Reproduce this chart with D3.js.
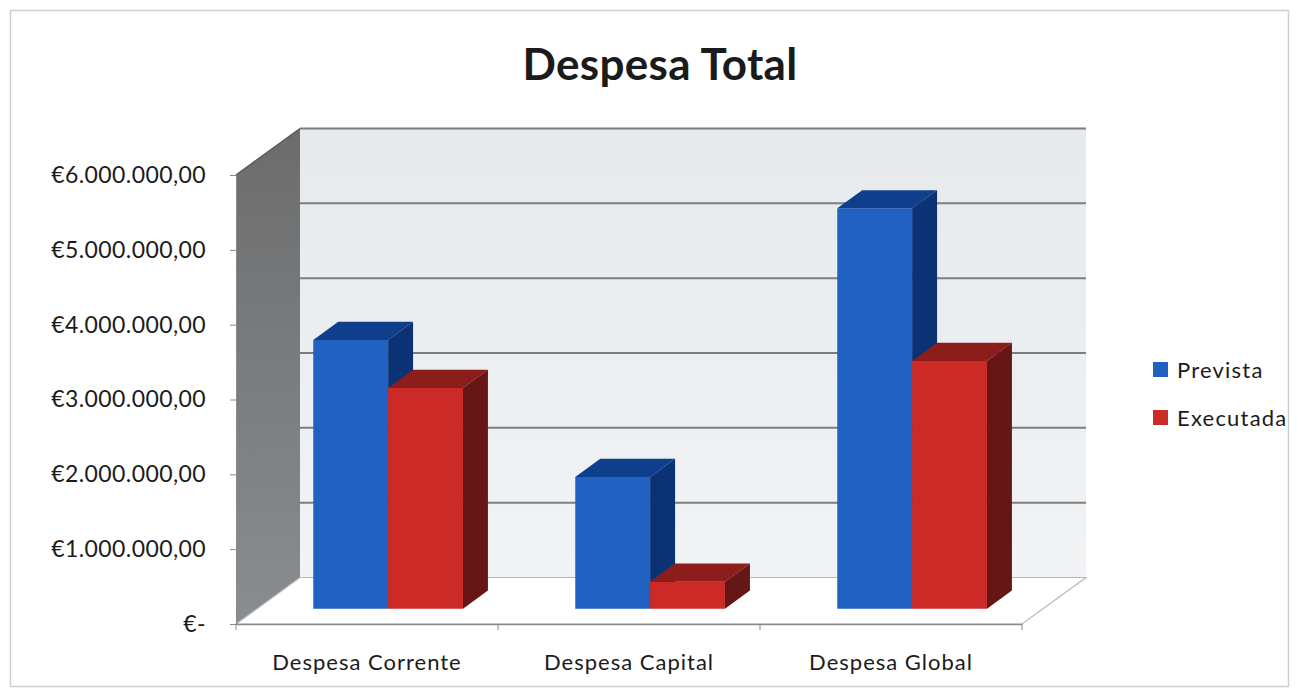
<!DOCTYPE html>
<html>
<head>
<meta charset="utf-8">
<script src="https://cdn.jsdelivr.net/npm/d3@7"></script>
<style>
  body { margin: 0; background: #ffffff; }
  svg { display: block; }
  text { font-family: Lato, "Open Sans", sans-serif; fill: #1b1b1b; }
</style>
</head>
<body>
<svg id="chart" width="1298" height="689"></svg>
<script>
// ---- data ----
const categories = ["Despesa Corrente", "Despesa Capital", "Despesa Global"];
const seriesNames = ["Prevista", "Executada"];
const prevista = [3590000, 1760000, 5350000];
const executada = [2950000, 360000, 3310000];
const yTickValues = [0, 1000000, 2000000, 3000000, 4000000, 5000000, 6000000];
const chartTitle = "Despesa Total";

// ---- colours ----
const seriesColors = {
  Prevista:  { front: "#2161c2", top: "#0f3f8c", side: "#0b3274" },
  Executada: { front: "#cb2a27", top: "#8c1d1b", side: "#661715" }
};

const svg = d3.select("#chart");
const euro = d3.formatLocale({ decimal: ",", thousands: ".", grouping: [3], currency: ["€", ""] });
const fmt = v => v === 0 ? "€-" : euro.format("$,.2f")(v);

// ---- 3D frame geometry ----
const origin = { x: 236, y: 624 };      // front-left corner of the floor
const depth = { x: 64, y: -46.5 };      // vector from front plane to back wall
const plotW = 786;
const plotH = 449;

const x0 = d3.scaleBand().domain(categories).range([0, plotW]);
const barW = x0.bandwidth() / 3.5;      // gap width 150%
const x1 = d3.scaleBand().domain(seriesNames).range([barW * 0.75, barW * 2.75]);
const h = d3.scaleLinear().domain([0, 6000000]).range([0, plotH]);

// project (x along axis, height, depth fraction) to screen
function P(fx, fh, z) {
  return [origin.x + fx + z * depth.x, origin.y - fh + z * depth.y];
}
const poly = pts => "M" + pts.map(p => p.join(",")).join("L") + "Z";

// outer frame
svg.append("rect")
  .attr("x", 10.5).attr("y", 10.5).attr("width", 1278).attr("height", 676)
  .attr("fill", "none").attr("stroke", "#cfcfcf").attr("stroke-width", 1.5);

// gradients
const defs = svg.append("defs");
const gWall = defs.append("linearGradient").attr("id", "sideWall")
  .attr("x1", 0).attr("y1", 0).attr("x2", 0).attr("y2", 1);
gWall.append("stop").attr("offset", "0%").attr("stop-color", "#6c6c6c");
gWall.append("stop").attr("offset", "100%").attr("stop-color", "#898d91");
const gBack = defs.append("linearGradient").attr("id", "backWall")
  .attr("x1", 0).attr("y1", 0).attr("x2", 0).attr("y2", 1);
gBack.append("stop").attr("offset", "0%").attr("stop-color", "#e6eaed");
gBack.append("stop").attr("offset", "100%").attr("stop-color", "#f1f3f5");

const wallTop = h(6000000);

// back wall
svg.append("path")
  .attr("d", poly([P(0, 0, 1), P(plotW, 0, 1), P(plotW, wallTop, 1), P(0, wallTop, 1)]))
  .attr("fill", "url(#backWall)");

// side wall
svg.append("path")
  .attr("d", poly([P(0, 0, 0), P(0, 0, 1), P(0, wallTop, 1), P(0, wallTop, 0)]))
  .attr("fill", "url(#sideWall)");

// gridlines on back wall
svg.append("g").selectAll("line")
  .data(yTickValues.filter(v => v > 0))
  .join("line")
  .attr("x1", d => P(0, h(d), 1)[0]).attr("y1", d => P(0, h(d), 1)[1])
  .attr("x2", d => P(plotW, h(d), 1)[0]).attr("y2", d => P(plotW, h(d), 1)[1])
  .attr("stroke", "#7b7d80").attr("stroke-width", 2);

// top edge of side wall
svg.append("line")
  .attr("x1", P(0, wallTop, 0)[0]).attr("y1", P(0, wallTop, 0)[1])
  .attr("x2", P(0, wallTop, 1)[0]).attr("y2", P(0, wallTop, 1)[1])
  .attr("stroke", "#5a5a5a").attr("stroke-width", 1.5);

// floor
svg.append("path")
  .attr("d", poly([P(0, 0, 0), P(plotW, 0, 0), P(plotW, 0, 1), P(0, 0, 1)]))
  .attr("fill", "#ffffff").attr("stroke", "#b5b8bb").attr("stroke-width", 1.2);

// ---- bars ----
const zFront = 0.33, zBack = 0.72;
const rows = [];
categories.forEach((c, i) => {
  rows.push({ cat: c, series: "Prevista", value: prevista[i] });
  rows.push({ cat: c, series: "Executada", value: executada[i] });
});

const bars = svg.append("g").selectAll("g").data(rows).join("g");
bars.each(function (d) {
  const g = d3.select(this);
  const xl = x0(d.cat) + x1(d.series);
  const xr = xl + x1.bandwidth();
  const vh = h(d.value);
  const col = seriesColors[d.series];
  // front face
  g.append("path")
    .attr("d", poly([P(xl, 0, zFront), P(xr, 0, zFront), P(xr, vh, zFront), P(xl, vh, zFront)]))
    .attr("fill", col.front);
  // top face
  g.append("path")
    .attr("d", poly([P(xl, vh, zFront), P(xr, vh, zFront), P(xr, vh, zBack), P(xl, vh, zBack)]))
    .attr("fill", col.top);
  // right face
  g.append("path")
    .attr("d", poly([P(xr, 0, zFront), P(xr, 0, zBack), P(xr, vh, zBack), P(xr, vh, zFront)]))
    .attr("fill", col.side);
});

// ---- axes ----
const yAxisScale = d3.scaleLinear().domain([0, 6000000]).range([origin.y, origin.y - plotH]);
const yAxis = svg.append("g")
  .attr("transform", `translate(${origin.x},0)`)
  .call(d3.axisLeft(yAxisScale).tickValues(yTickValues).tickFormat(fmt).tickSize(6).tickPadding(24));
yAxis.select(".domain").attr("stroke", "#8a8a8a");
yAxis.selectAll(".tick line").attr("stroke", "#8a8a8a");
yAxis.selectAll(".tick text")
  .style("font-family", "Lato, 'Open Sans', sans-serif")
  .style("font-size", "23px").style("letter-spacing", "0.4px").attr("fill", "#1b1b1b");

// category axis: boundary ticks and centred labels
const xAxisScale = d3.scaleBand().domain(categories).range([origin.x, origin.x + plotW]);
const xAxis = svg.append("g")
  .attr("transform", `translate(0,${origin.y})`)
  .call(d3.axisBottom(xAxisScale).tickSize(0).tickPadding(30));
xAxis.select(".domain").attr("stroke", "#8a8a8a").attr("stroke-width", 1.5);
xAxis.selectAll(".tick text")
  .style("font-family", "Lato, 'Open Sans', sans-serif")
  .style("font-size", "22px").style("letter-spacing", "1px").attr("fill", "#1b1b1b");
const bounds = d3.range(categories.length + 1).map(i => origin.x + i * x0.step());
xAxis.append("g").selectAll("line").data(bounds).join("line")
  .attr("x1", d => d).attr("x2", d => d)
  .attr("y1", 0).attr("y2", 6)
  .attr("stroke", "#8a8a8a");

// ---- title ----
svg.append("text")
  .attr("x", 660).attr("y", 80)
  .attr("text-anchor", "middle")
  .style("font-size", "44px").style("font-weight", "bold")
  .style("letter-spacing", "0.3px")
  .text(chartTitle);

// ---- legend ----
const legend = svg.append("g").attr("transform", "translate(1153,362)");
const li = legend.selectAll("g").data(seriesNames).join("g")
  .attr("transform", (d, i) => `translate(0,${i * 48})`);
li.append("rect").attr("width", 15).attr("height", 15)
  .attr("fill", d => seriesColors[d].front);
li.append("text").attr("x", 24).attr("y", 16)
  .style("font-size", "22px").style("letter-spacing", "1.2px")
  .text(d => d);
</script>
</body>
</html>
